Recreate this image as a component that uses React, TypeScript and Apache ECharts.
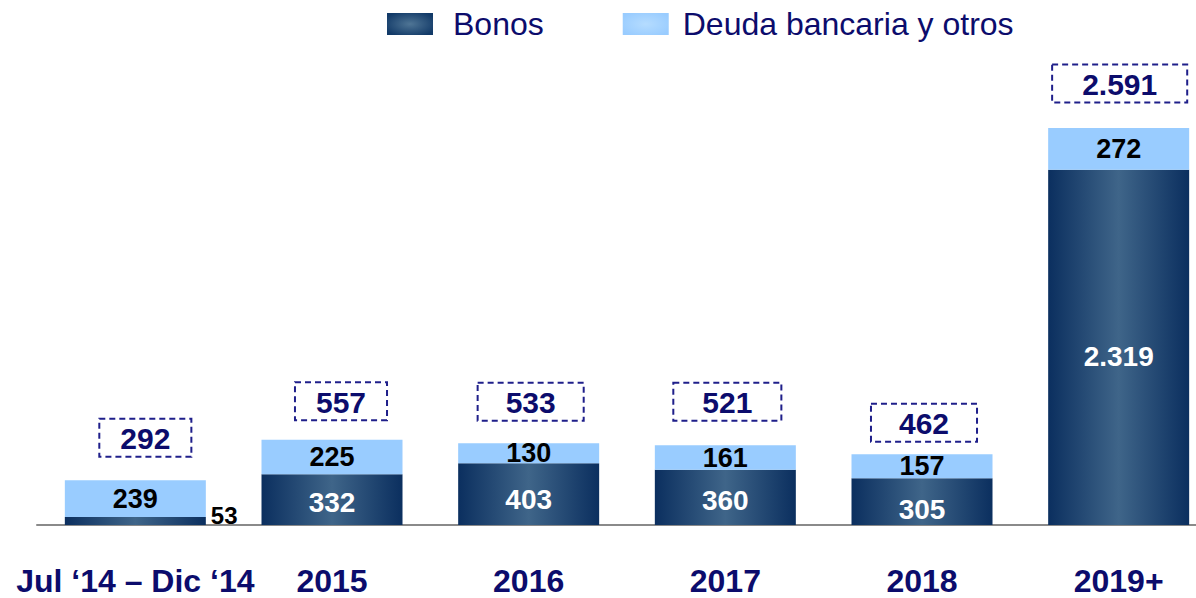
import React, { useEffect, useRef } from "react";
import * as echarts from "echarts";

const categories = ["Jul \u201814 \u2013 Dic \u201814", "2015", "2016", "2017", "2018", "2019+"];
const bonos = [53, 332, 403, 360, 305, 2319];
const deuda = [239, 225, 130, 161, 157, 272];
const bonosLabels = ["53", "332", "403", "360", "305", "2.319"];
const deudaLabels = ["239", "225", "130", "161", "157", "272"];
const totalLabels = ["292", "557", "533", "521", "462", "2.591"];

// label box styling (positions/sizes, not data)
const totalDistance = [23, 19, 22, 24, 12, 25];
const totalOffsetX = [10, 9, 2, 2, 2, 1];
const totalPadX = [21, 21, 28, 29, 28, 30];
const bonosOffsetY = [0, 3, 5, 3, 8, 9];

const NAVY = "#0c0c6c";
const FONT = "'Liberation Sans', Arial, sans-serif";

const darkGrad = new echarts.graphic.LinearGradient(0, 0, 1, 0, [
  { offset: 0, color: "#0b2f5f" },
  { offset: 0.5, color: "#3f6589" },
  { offset: 1, color: "#0b2f5f" },
]);
const legendGrad = new echarts.graphic.RadialGradient(0.5, 0.5, 0.6, [
  { offset: 0, color: "#4f7595" },
  { offset: 1, color: "#123a68" },
]);
const legendLightGrad = new echarts.graphic.RadialGradient(0.5, 0.5, 0.6, [
  { offset: 0, color: "#b5dcff" },
  { offset: 1, color: "#99ccff" },
]);
const LIGHT = "#99ccff";

export default function App() {
  const ref = useRef<HTMLDivElement>(null);
  useEffect(() => {
    if (!ref.current) return;
    const chart = echarts.init(ref.current, null, { renderer: "svg" });
    const totals = bonos.map((b, i) => b + deuda[i]);
    chart.setOption({
      animation: false,
      textStyle: { fontFamily: FONT },
      legend: {
        left: 387,
        top: 8,
        padding: 0,
        icon: "rect",
        itemWidth: 46,
        itemHeight: 22,
        itemGap: 79,
        data: [
          { name: "Bonos", itemStyle: { color: legendGrad } },
          {
            name: "Deuda bancaria y otros",
            itemStyle: { color: legendLightGrad },
            textStyle: { padding: [0, 0, 0, 9] },
          },
        ],
        textStyle: { fontSize: 32, color: NAVY, fontFamily: FONT, padding: [0, 0, 0, 15] },
      },
      grid: { left: 37, right: 0, top: 128, bottom: 73 },
      xAxis: {
        type: "category",
        data: categories,
        axisLine: { show: true, lineStyle: { color: "#8a8a8a", width: 2 } },
        axisTick: { show: false },
        axisLabel: {
          margin: 42,
          fontSize: 32,
          lineHeight: 28,
          fontWeight: "bold",
          color: NAVY,
          fontFamily: FONT,
          interval: 0,
        },
      },
      yAxis: {
        type: "value",
        min: 0,
        max: 2591,
        show: false,
        splitLine: { show: false },
      },
      series: [
        {
          name: "Bonos",
          type: "bar",
          stack: "t",
          barWidth: 141,
          itemStyle: { color: darkGrad },
          data: bonos.map((v, i) =>
            i === 0
              ? {
                  value: v,
                  label: {
                    show: true,
                    position: "right",
                    distance: 5,
                    offset: [0, -5],
                    color: "#000",
                    fontSize: 24,
                    fontWeight: "bold",
                    formatter: () => bonosLabels[i],
                  },
                }
              : { value: v, label: { offset: [0, bonosOffsetY[i]] } }
          ),
          label: {
            show: true,
            position: "inside",
            color: "#fff",
            fontSize: 28,
            fontWeight: "bold",
            fontFamily: FONT,
            formatter: (p: any) => bonosLabels[p.dataIndex],
          },
        },
        {
          name: "Deuda bancaria y otros",
          type: "bar",
          stack: "t",
          barWidth: 141,
          itemStyle: { color: LIGHT },
          label: {
            show: true,
            position: "inside",
            color: "#000",
            fontSize: 27,
            fontWeight: "bold",
            fontFamily: FONT,
            formatter: (p: any) => deudaLabels[p.dataIndex],
          },
          data: deuda,
        },
        {
          name: "Total",
          type: "scatter",
          symbolSize: 1,
          itemStyle: { color: "rgba(0,0,0,0)", opacity: 1 },
          silent: true,
          data: totals.map((v, i) => ({
            value: v,
            label: {
              show: true,
              position: "top",
              distance: totalDistance[i],
              offset: [totalOffsetX[i], 0],
              padding: [5, totalPadX[i], 3, totalPadX[i]],
              formatter: () => totalLabels[i],
            },
          })),
          label: {
            show: true,
            opacity: 1,
            color: NAVY,
            fontSize: 30,
            fontWeight: "bold",
            fontFamily: FONT,
            borderColor: "#1f1f8a",
            borderWidth: 2,
            borderType: [6, 4],
          },
        },
      ],
    });
    return () => chart.dispose();
  }, []);
  return (
    <div style={{ width: 1196, height: 598, position: "absolute", left: 0, top: 0, overflow: "hidden" }}>
      <div ref={ref} style={{ width: 1217, height: 598 }} />
    </div>
  );
}
